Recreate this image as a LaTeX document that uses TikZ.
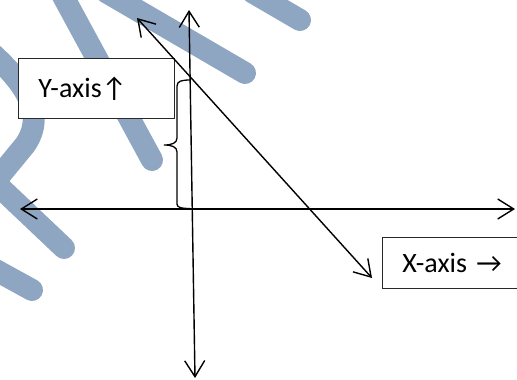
\documentclass[tikz,border=0pt]{standalone}
\usepackage{fontspec}
\setmainfont{Carlito}
\usetikzlibrary{arrows.meta}
\definecolor{wm}{RGB}{143,166,194}
\definecolor{boxline}{RGB}{40,40,40}
\begin{document}
\begin{tikzpicture}[x=1pt,y=-1pt,
  wmark/.style={draw=wm,line width=22pt,line cap=round},
  barb/.tip={Straight Barb[length=16pt,width=20pt,line width=1.4pt]},
  axis/.style={line width=1.4pt,barb-barb},
  lbl/.style={draw=boxline,line width=0.9pt,fill=white,font=\fontsize{28}{32}\selectfont,
    inner xsep=20pt,inner ysep=0pt,align=left,anchor=north west}]
\useasboundingbox (0,0) rectangle (517,380);
% watermark
\draw[wmark] (57,-15) -- (152,160);
\draw[wmark] (106,-8) -- (245,73);
\draw[wmark] (252,-8) -- (300,20);
\draw[wmark] (-14,48) .. controls (22,80) and (48,112) .. (25,145) -- (-12,190);
\draw[wmark] (-12,176) -- (64,248);
\draw[wmark] (-8,268) -- (32,290);
% labels
\node[lbl,text width=116pt,minimum height=60pt] (ylab) at (18,58) {Y-axis↑};
\node[lbl,text width=100pt,minimum height=51pt] (xlab) at (382,237) {X-axis →};
% axes
\coordinate (xl) at (20,209);
\coordinate (xr) at (515,209);
\coordinate (yt) at (189,10);
\coordinate (yb) at (195,378);
\coordinate (dt) at (137,18);
\coordinate (db) at (372,278);
\draw[axis] (xl) -- (xr);
\draw[axis] (yb) -- (yt);
\draw[axis] (db) -- (dt);
% brace
\draw[line width=1.3pt] (190,80) .. controls (182,80) and (177,81) .. (177,86) -- (177,138)
  .. controls (177,143) and (172,145) .. (164,145)
  .. controls (172,145) and (177,147) .. (177,152) -- (177,204)
  .. controls (177,207) and (180,208.5) .. (190,208.5);
\end{tikzpicture}
\end{document}
